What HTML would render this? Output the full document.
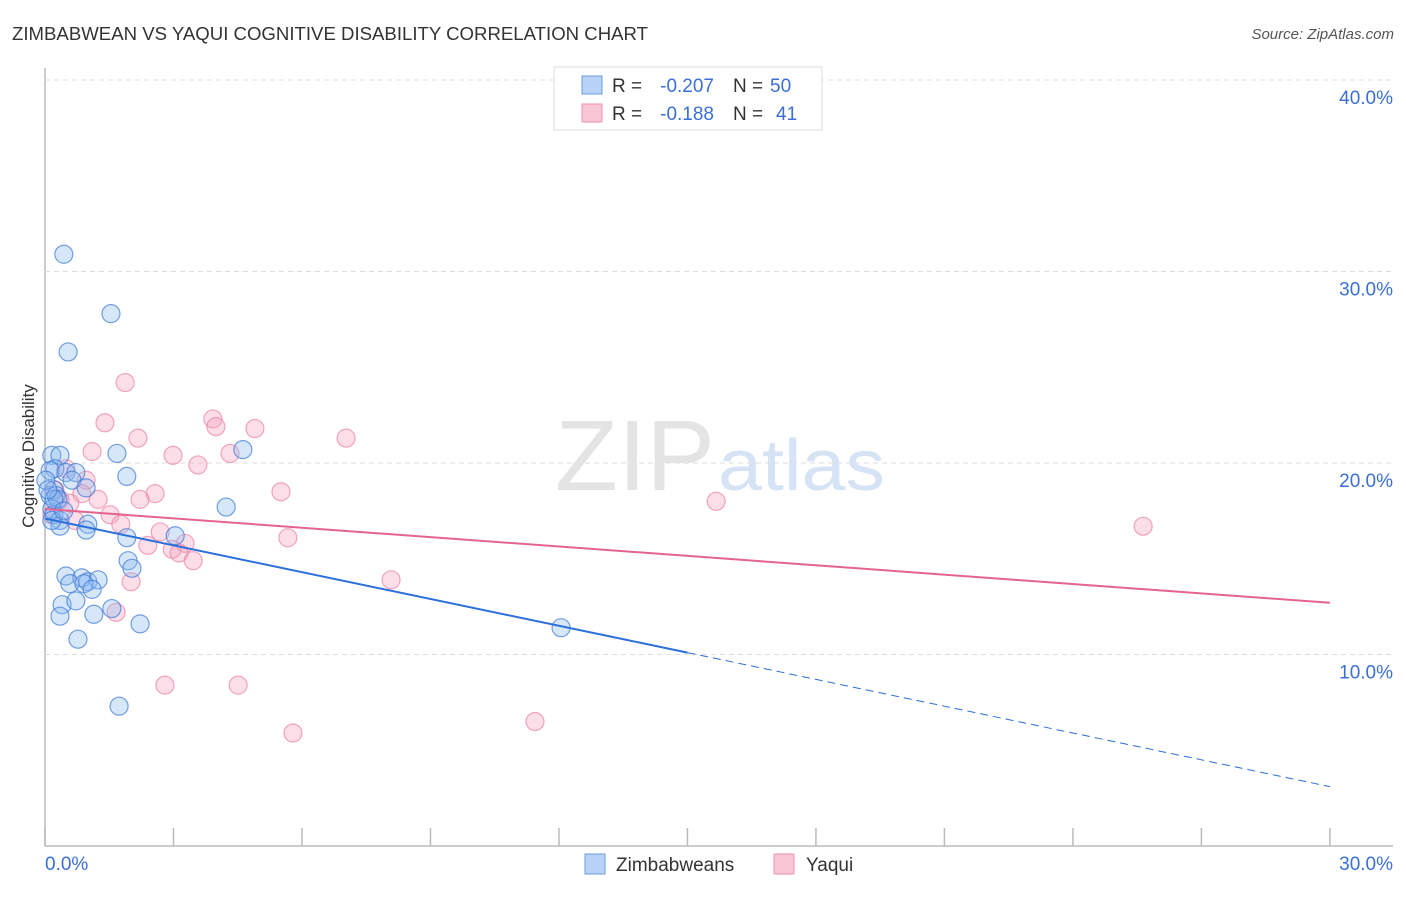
<!DOCTYPE html>
<html><head><meta charset="utf-8"><style>
body{margin:0;background:#fff;font-family:"Liberation Sans",sans-serif;}
svg text{font-family:"Liberation Sans",sans-serif;}
</style></head><body>
<svg id="chart" width="1406" height="892">
<text x="12" y="40" font-size="18" fill="#333" textLength="636" lengthAdjust="spacingAndGlyphs">ZIMBABWEAN VS YAQUI COGNITIVE DISABILITY CORRELATION CHART</text>
<text x="1394" y="39" font-size="15" fill="#555" text-anchor="end" font-style="italic">Source: ZipAtlas.com</text>
<g id="grid"></g>
<text x="555" y="490" font-size="100" fill="#e4e4e4" textLength="160" lengthAdjust="spacingAndGlyphs" font-family="Liberation Serif">ZIP</text>
<text x="718" y="490" font-size="72" fill="#d6e3f5" textLength="167" lengthAdjust="spacingAndGlyphs">atlas</text>
<text transform="translate(34,456) rotate(-90)" font-size="17" fill="#333" text-anchor="middle">Cognitive Disability</text>
<g id="marks"></g>
<g>
<rect x="554" y="67" width="268" height="63" fill="#fff" stroke="#ddd"/>
<rect x="582" y="76" width="20" height="18" fill="#b8d3f5" stroke="#6a9be0"/>
<rect x="582" y="104" width="20" height="18" fill="#f9c6d6" stroke="#ec90ae"/>
<g font-size="19">
<text x="612" y="92" fill="#333">R =</text>
<text x="714" y="92" fill="#3a6fd8" text-anchor="end">-0.207</text>
<text x="733" y="92" fill="#333">N =</text>
<text x="770" y="92" fill="#3a6fd8">50</text>
<text x="612" y="120" fill="#333">R =</text>
<text x="714" y="120" fill="#3a6fd8" text-anchor="end">-0.188</text>
<text x="733" y="120" fill="#333">N =</text>
<text x="776" y="120" fill="#3a6fd8">41</text>
</g>
</g>
<g>
<rect x="585" y="854" width="20" height="20" fill="#b8d3f5" stroke="#6a9be0"/>
<text x="616" y="871" font-size="19" fill="#333">Zimbabweans</text>
<rect x="774" y="854" width="20" height="20" fill="#f9c6d6" stroke="#ec90ae"/>
<text x="806" y="871" font-size="19" fill="#333">Yaqui</text>
</g>
</svg>
<script>
const yTicks=[10,20,30,40];
const xTickLabels=["0.0%","30.0%"];
const blueX=[0.44,1.54,0.54,1.68,1.91,4.62,4.23,0.16,0.35,0.23,0.12,0.49,0.72,0.63,0.96,0.21,0.12,0.26,0.30,0.16,0.21,0.35,0.35,1.00,0.96,3.04,1.91,1.94,2.03,0.49,0.86,0.58,1.00,1.24,0.91,1.10,0.40,0.72,1.56,0.35,1.14,2.22,0.77,1.73,12.05,0.21,0.02,0.07,0.16,0.44];
const blueY=[30.9,27.8,25.8,20.5,19.3,20.7,17.7,20.4,20.4,19.7,19.6,19.5,19.5,19.1,18.7,18.6,18.3,18.3,18.1,17.6,17.3,17.0,16.7,16.8,16.5,16.2,16.1,14.9,14.5,14.1,14.0,13.7,13.8,13.9,13.7,13.4,12.6,12.8,12.4,12.0,12.1,11.6,10.8,7.3,11.4,18.1,19.1,18.6,17.0,17.5];
const pinkX=[1.87,1.40,3.92,3.99,4.90,7.03,2.17,1.10,2.99,4.32,3.57,0.49,0.96,2.57,5.51,0.86,1.24,2.22,15.67,0.58,1.52,0.70,1.77,2.69,5.67,25.64,2.40,3.27,2.97,3.13,3.46,2.01,8.08,1.66,2.80,4.51,5.79,11.44,0.35,0.23,0.16];
const pinkY=[24.2,22.1,22.3,21.9,21.8,21.3,21.3,20.6,20.4,20.5,19.9,19.7,19.1,18.4,18.5,18.4,18.1,18.1,18.0,17.9,17.3,17.0,16.8,16.4,16.1,16.7,15.7,15.8,15.5,15.3,14.9,13.8,13.9,12.2,8.4,8.4,5.9,6.5,18.1,18.6,17.3];
const blueTrend=[17.1,3.1];
const blueSolidEnd=15.0;
const pinkTrend=[17.6,12.7];
const NS="http://www.w3.org/2000/svg";
const sx=v=>45+v*42.83, sy=v=>846-v*19.15;
const grid=document.getElementById('grid'), marks=document.getElementById('marks');
function mk(tag,attrs,parent){const e=document.createElementNS(NS,tag);for(const k in attrs)e.setAttribute(k,attrs[k]);parent.appendChild(e);return e;}
mk('line',{x1:45,y1:68,x2:45,y2:846,stroke:'#bbb','stroke-width':1.5},grid);
mk('line',{x1:45,y1:846,x2:1393,y2:846,stroke:'#bbb','stroke-width':1.5},grid);
yTicks.forEach(t=>{
 const l=mk('line',{x1:45,y1:sy(t),x2:1393,y2:sy(t),stroke:'#ddd','stroke-dasharray':'5,4'},grid);
 
 
 const tx=mk('text',{x:1393,y:sy(t)+24,'font-size':19,fill:'#3a6fd8','text-anchor':'end'},grid);
 tx.textContent=t.toFixed(1)+'%';
 
 
});
for(let i=0;i<=10;i++){
 const l=mk('line',{x1:sx(i*3),y1:828,x2:sx(i*3),y2:846,stroke:'#bbb','stroke-width':1.5},grid);
 
 
}
[[0,'start',45],[30,'end',1393]].forEach((d,i)=>{
 const tx=mk('text',{x:d[2],y:870,'font-size':19,fill:'#3a6fd8','text-anchor':d[1]},grid);
 tx.textContent=xTickLabels[i];
 
 
});
pinkX.forEach((x,i)=>{
 const c=mk('circle',{cx:sx(x),cy:sy(pinkY[i]),r:9,fill:'rgba(244,160,188,0.35)',stroke:'rgba(236,130,165,0.7)','stroke-width':1.2},marks);
 
 
});
blueX.forEach((x,i)=>{
 const c=mk('circle',{cx:sx(x),cy:sy(blueY[i]),r:9,fill:'rgba(140,185,240,0.35)',stroke:'rgba(60,120,215,0.7)','stroke-width':1.2},marks);
 
 
});
const by=x=>blueTrend[0]+(blueTrend[1]-blueTrend[0])*x/30;
let l=mk('line',{x1:sx(0),y1:sy(by(0)),x2:sx(blueSolidEnd),y2:sy(by(blueSolidEnd)),stroke:'#2a6fdc','stroke-width':2},marks);


l=mk('line',{x1:sx(blueSolidEnd),y1:sy(by(blueSolidEnd)),x2:sx(30),y2:sy(by(30)),stroke:'#2a6fdc','stroke-width':1,'stroke-dasharray':'8,5'},marks);


l=mk('line',{x1:sx(0),y1:sy(pinkTrend[0]),x2:sx(30),y2:sy(pinkTrend[1]),stroke:'#e5648e','stroke-width':2},marks);


</script>
</body></html>
